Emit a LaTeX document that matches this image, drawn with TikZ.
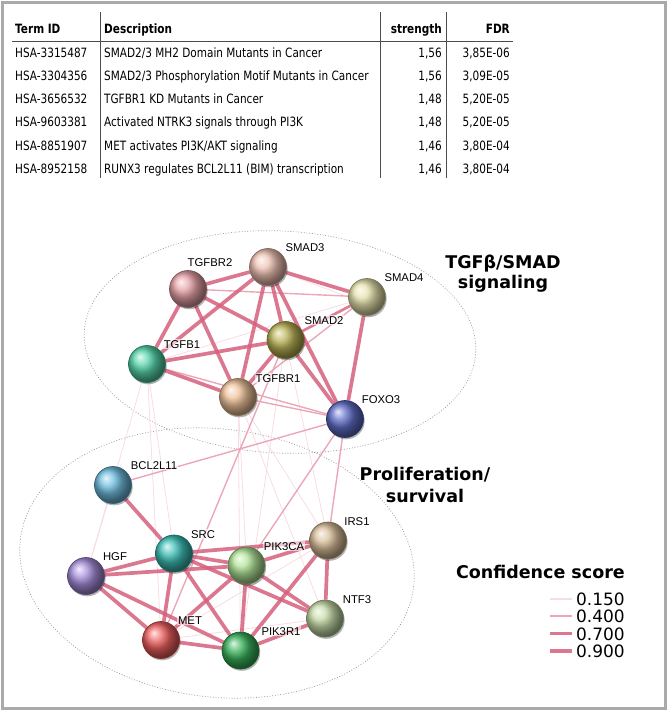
\documentclass[tikz,border=0pt]{standalone}
\usepackage{fontspec}
\setmainfont{DejaVu Sans}
\newfontfamily\tabf[FakeStretch=0.82]{DejaVu Sans}
\newfontfamily\labf{Liberation Sans}
\usetikzlibrary{shadows}
\pgfdeclarelayer{back}\pgfdeclarelayer{mid}
\pgfsetlayers{back,mid,main}
\definecolor{cTGFBR2}{HTML}{E3959B}
\definecolor{cSMAD3}{HTML}{EDB9A8}
\definecolor{cSMAD4}{HTML}{E0DDA0}
\definecolor{cSMAD2}{HTML}{B0A83E}
\definecolor{cTGFB1}{HTML}{3FCFA0}
\definecolor{cTGFBR1}{HTML}{EDBA8C}
\definecolor{cFOXO3}{HTML}{4A5AC0}
\definecolor{cBCL}{HTML}{5BB4DA}
\definecolor{cSRC}{HTML}{22B5AC}
\definecolor{cHGF}{HTML}{9A7ED6}
\definecolor{cPIK3CA}{HTML}{A6E08A}
\definecolor{cIRS1}{HTML}{D4B68C}
\definecolor{cNTF3}{HTML}{BCD69A}
\definecolor{cMET}{HTML}{EE4A4A}
\definecolor{cPIK3R1}{HTML}{1FA845}
\definecolor{edgc}{HTML}{D65F7D}
\definecolor{edgl}{HTML}{ECA6B8}
\definecolor{edgf}{HTML}{F7DCE3}
\definecolor{framec}{HTML}{AAAAAA}
\begin{document}
\begin{tikzpicture}[x=1pt,y=-1pt,
  gene/.style={circle, minimum size=37pt, inner sep=0pt, ball color=#1!88!white, draw=#1!55!black, line width=0.7pt,
    drop shadow={shadow xshift=1.2pt, shadow yshift=-1.8pt, opacity=0.3, fill=black}},
  lab/.style={font=\labf\fontsize{11.3}{12}\selectfont, anchor=base, inner sep=0.8pt, fill=white, fill opacity=0.6, text opacity=1},
  tab/.style={font=\tabf\fontsize{12.8}{14}\selectfont, inner sep=0pt},
  tabh/.style={font=\tabf\bfseries\fontsize{12.8}{14}\selectfont, inner sep=0pt},
  ttl/.style={font=\bfseries\fontsize{17.5}{20}\selectfont, inner sep=0pt, anchor=base},
  leg/.style={font=\fontsize{17}{19}\selectfont, inner sep=0pt, anchor=base east},
  e9/.style={draw=edgc, line width=3.7pt, opacity=0.85},
  e7/.style={draw=edgc, line width=2.7pt, opacity=0.8},
  e4/.style={draw=edgl, line width=1.4pt},
  e1/.style={draw=edgf, line width=0.8pt},
  ell/.style={draw=gray!80, dash pattern=on 0.9pt off 1.8pt, line width=0.7pt},
  rule/.style={draw=black!70, line width=0.9pt}]
\useasboundingbox (0,0) rectangle (669,712);
\draw[framec, line width=3pt] (2,2) rectangle (665.5,708.5);

% ---------- table ----------
\draw[rule] (100,12) -- (100,178);
\draw[rule] (380,12) -- (380,178);
\draw[rule] (446,12) -- (446,178);
\draw[rule] (12,41) -- (513,41);
\node[tabh, anchor=base west] (h1) at (15,33) {Term ID};
\node[tabh, anchor=base west] (h2) at (104,33) {Description};
\node[tabh, anchor=base east] (h3) at (442,33) {strength};
\node[tabh, anchor=base east] (h4) at (510,33) {FDR};

\node[tab, anchor=base west] (r1a) at (15,57) {HSA-3315487};
\node[tab, anchor=base west] (r1b) at (104,57) {SMAD2/3 MH2 Domain Mutants in Cancer};
\node[tab, anchor=base east] (r1c) at (442,57) {1,56};
\node[tab, anchor=base east] (r1d) at (510,57) {3,85E-06};

\node[tab, anchor=base west] (r2a) at (15,80.3) {HSA-3304356};
\node[tab, anchor=base west] (r2b) at (104,80.3) {SMAD2/3 Phosphorylation Motif Mutants in Cancer};
\node[tab, anchor=base east] (r2c) at (442,80.3) {1,56};
\node[tab, anchor=base east] (r2d) at (510,80.3) {3,09E-05};

\node[tab, anchor=base west] (r3a) at (15,103.6) {HSA-3656532};
\node[tab, anchor=base west] (r3b) at (104,103.6) {TGFBR1 KD Mutants in Cancer};
\node[tab, anchor=base east] (r3c) at (442,103.6) {1,48};
\node[tab, anchor=base east] (r3d) at (510,103.6) {5,20E-05};

\node[tab, anchor=base west] (r4a) at (15,126.9) {HSA-9603381};
\node[tab, anchor=base west] (r4b) at (104,126.9) {Activated NTRK3 signals through PI3K};
\node[tab, anchor=base east] (r4c) at (442,126.9) {1,48};
\node[tab, anchor=base east] (r4d) at (510,126.9) {5,20E-05};

\node[tab, anchor=base west] (r5a) at (15,150.2) {HSA-8851907};
\node[tab, anchor=base west] (r5b) at (104,150.2) {MET activates PI3K/AKT signaling};
\node[tab, anchor=base east] (r5c) at (442,150.2) {1,46};
\node[tab, anchor=base east] (r5d) at (510,150.2) {3,80E-04};

\node[tab, anchor=base west] (r6a) at (15,173.5) {HSA-8952158};
\node[tab, anchor=base west] (r6b) at (104,173.5) {RUNX3 regulates BCL2L11 (BIM) transcription};
\node[tab, anchor=base east] (r6c) at (442,173.5) {1,46};
\node[tab, anchor=base east] (r6d) at (510,173.5) {3,80E-04};

% ---------- genes ----------
\node[gene=cTGFBR2] (TGFBR2) at (188,289) {};
\node[gene=cSMAD3]  (SMAD3)  at (268,267) {};
\node[gene=cSMAD4]  (SMAD4)  at (367,297) {};
\node[gene=cSMAD2]  (SMAD2)  at (285.5,340) {};
\node[gene=cTGFB1]  (TGFB1)  at (147,364) {};
\node[gene=cTGFBR1] (TGFBR1) at (238,397) {};
\node[gene=cFOXO3]  (FOXO3)  at (345,419) {};
\node[gene=cBCL]    (BCL2L11) at (113,485) {};
\node[gene=cSRC]    (SRC)    at (174,553.5) {};
\node[gene=cHGF]    (HGF)    at (86,576) {};
\node[gene=cPIK3CA] (PIK3CA) at (246.5,565.5) {};
\node[gene=cIRS1]   (IRS1)   at (328,540.5) {};
\node[gene=cNTF3]   (NTF3)   at (325,618.5) {};
\node[gene=cMET]    (MET)    at (161,640) {};
\node[gene=cPIK3R1] (PIK3R1) at (240.5,650.5) {};

% ---------- ellipses ----------
\begin{pgfonlayer}{back}
\draw[ell, rotate around={-3:(280,342)}] (280,342) ellipse [x radius=196pt, y radius=111pt];
\draw[ell, rotate around={-7:(217,563)}] (217,563) ellipse [x radius=198pt, y radius=134pt];
\end{pgfonlayer}

% ---------- edges ----------
\begin{pgfonlayer}{mid}
% faint (0.150)
\draw[e1] (TGFB1) -- (HGF);
\draw[e1] (TGFB1) -- (MET);
\draw[e1] (TGFB1) -- (SRC);
\draw[e1] (TGFB1) -- (SMAD4);
\draw[e1] (TGFBR1) -- (PIK3CA);
\draw[e1] (TGFBR1) -- (PIK3R1);
\draw[e1] (TGFBR1) -- (IRS1);
\draw[e1] (TGFBR1) -- (NTF3);
\draw[e1] (SMAD2) -- (PIK3R1);
\draw[e1] (SMAD2) -- (IRS1);
\draw[e1] (BCL2L11) -- (HGF);
\draw[e1] (MET) -- (IRS1);
\draw[e1] (MET) -- (NTF3);
\draw[e1] (SMAD3) -- (SMAD4.west);
% light (0.400)
\draw[e4] (TGFBR2) -- (SMAD4);
\draw[e4] (SMAD4) -- (TGFBR1);
\draw[e4] (TGFB1) -- (FOXO3);
\draw[e4] (TGFBR1) -- (FOXO3);
\draw[e4] (FOXO3) -- (BCL2L11);
\draw[e4] (SMAD2) -- (MET);
\draw[e4] (FOXO3) -- (PIK3CA);
\draw[e4] (FOXO3) -- (IRS1);
% strong (0.700)
\draw[e7] (SMAD2) -- (SMAD4);
% strongest (0.900)
\draw[e9] (TGFBR2) -- (SMAD3);
\draw[e9] (TGFBR2) -- (TGFB1);
\draw[e9] (TGFBR2) -- (TGFBR1);
\draw[e9] (TGFBR2) -- (SMAD2);
\draw[e9] (SMAD3) -- (TGFB1);
\draw[e9] (SMAD3) -- (SMAD4);
\draw[e9] (SMAD3) -- (SMAD2);
\draw[e9] (SMAD3) -- (TGFBR1);
\draw[e9] (SMAD3) -- (FOXO3);
\draw[e9] (TGFB1) -- (SMAD2);
\draw[e9] (TGFB1) -- (TGFBR1);
\draw[e9] (SMAD2) -- (TGFBR1);
\draw[e9] (SMAD2) -- (FOXO3);
\draw[e9] (SMAD4) -- (FOXO3);
\draw[e9] (BCL2L11) -- (SRC);
\draw[e9] (SRC) -- (HGF);
\draw[e9] (SRC) -- (PIK3CA);
\draw[e9] (SRC) -- (IRS1);
\draw[e9] (SRC) -- (NTF3);
\draw[e9] (SRC) -- (MET);
\draw[e9] (SRC) -- (PIK3R1);
\draw[e9] (HGF) -- (PIK3CA);
\draw[e9] (HGF) -- (MET);
\draw[e9] (HGF) -- (PIK3R1);
\draw[e9] (PIK3CA) -- (IRS1);
\draw[e9] (PIK3CA) -- (MET);
\draw[e9] (PIK3CA) -- (PIK3R1);
\draw[e9] (PIK3CA) -- (NTF3);
\draw[e9] (IRS1) -- (PIK3R1);
\draw[e9] (IRS1) -- (NTF3);
\draw[e9] (NTF3) -- (PIK3R1);
\draw[e9] (MET) -- (PIK3R1);
\end{pgfonlayer}

% ---------- gene labels ----------
\node[lab] (lTGFBR2) at (210,266) {TGFBR2};
\node[lab] (lSMAD3) at (305,251) {SMAD3};
\node[lab] (lSMAD4) at (404,281) {SMAD4};
\node[lab] (lSMAD2) at (324,324) {SMAD2};
\node[lab] (lTGFB1) at (182,348) {TGFB1};
\node[lab] (lTGFBR1) at (278,382) {TGFBR1};
\node[lab] (lFOXO3) at (381,403) {FOXO3};
\node[lab] (lBCL) at (154,469) {BCL2L11};
\node[lab] (lSRC) at (203,538) {SRC};
\node[lab] (lHGF) at (115,560) {HGF};
\node[lab] (lPIK3CA) at (284,550) {PIK3CA};
\node[lab] (lIRS1) at (357,525) {IRS1};
\node[lab] (lNTF3) at (357,603) {NTF3};
\node[lab] (lMET) at (190,624) {MET};
\node[lab] (lPIK3R1) at (281,635) {PIK3R1};

% ---------- cluster titles ----------
\node[ttl] (t1a) at (503,268) {TGFβ/SMAD};
\node[ttl] (t1b) at (503,288) {signaling};
\node[ttl] (t2a) at (425,480) {Proliferation/};
\node[ttl] (t2b) at (425,502) {survival};

% ---------- legend ----------
\node[ttl, anchor=base east] (legt) at (625,578) {Confidence score};
\node[leg] (l15) at (625,605) {0.150};
\node[leg] (l40) at (625,622.5) {0.400};
\node[leg] (l70) at (625,640) {0.700};
\node[leg] (l90) at (625,657.3) {0.900};
\draw[e1, line width=1.2pt] (550,599) -- (572,599);
\draw[e4, line width=1.8pt] (550,616.3) -- (572,616.3);
\draw[draw=edgc, opacity=0.85, line width=3.6pt] (550,633.5) -- (572,633.5);
\draw[draw=edgc, opacity=0.85, line width=4.6pt] (550,651) -- (572,651);
\end{tikzpicture}
\end{document}
